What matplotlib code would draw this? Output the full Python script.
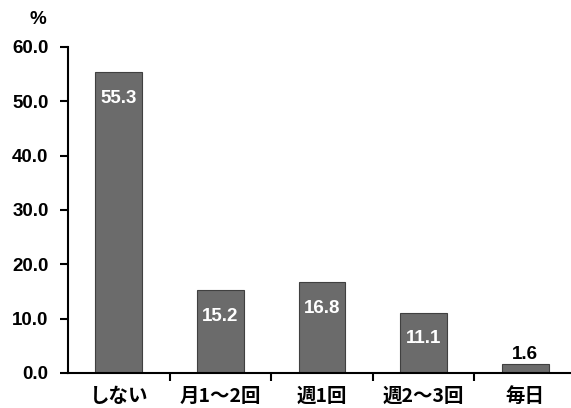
import matplotlib
matplotlib.use('Agg')
import matplotlib.pyplot as plt
import numpy as np

plt.rcParams['font.family'] = ['Noto Sans CJK JP', 'DejaVu Sans']

categories = ['しない', '月1～2回', '週1回', '週2～3回', '毎日']
values = [55.3, 15.2, 16.8, 11.1, 1.6]
yticks = [0, 10, 20, 30, 40, 50, 60]

fig = plt.figure(figsize=(5.71, 4.08), dpi=100)
ax = fig.add_axes([0.119, 0.086, 0.881, 0.799])

x = np.arange(len(categories))
bars = ax.bar(x, values, width=0.46, color='#6b6b6b', edgecolor='#404040', linewidth=0.8, zorder=2)

for xi, v in zip(x, values):
    if v > 5:
        ax.annotate(f'{v:.1f}', (xi, v), xytext=(0, -19), textcoords='offset points',
                    ha='center', va='center', color='white', fontsize=13.5, fontweight='bold',
                    family='Liberation Sans')
    else:
        ax.annotate(f'{v:.1f}', (xi, v), xytext=(0, 1), textcoords='offset points',
                    ha='center', va='bottom', color='black', fontsize=13.5, fontweight='bold',
                    family='Liberation Sans')

ax.set_xlim(-0.5, 4.45)
ax.set_ylim(0, 60)
ax.set_yticks(yticks)
ax.set_yticklabels([f'{t:.1f}' for t in yticks], fontsize=13.5, fontweight='bold', family='Liberation Sans')

# category labels at centres, ticks at boundaries
ax.set_xticks(x)
ax.set_xticklabels(categories, fontsize=14, fontweight='bold')
ax.tick_params(axis='x', length=0, pad=10)
ax.set_xticks(np.arange(0.5, 4.5, 1), minor=True)
ax.tick_params(axis='x', which='minor', length=6, width=1.5, direction='out')
ax.tick_params(axis='y', length=6, width=1.5, direction='out', pad=8)

for s in ['top', 'right']:
    ax.spines[s].set_visible(False)
for s in ['left', 'bottom']:
    ax.spines[s].set_linewidth(1.5)

fig.text(0.066, 0.953, '%', fontsize=13.5, fontweight='bold', ha='center', va='center',
         family='Liberation Sans')

fig.savefig('out.png', dpi=100)
